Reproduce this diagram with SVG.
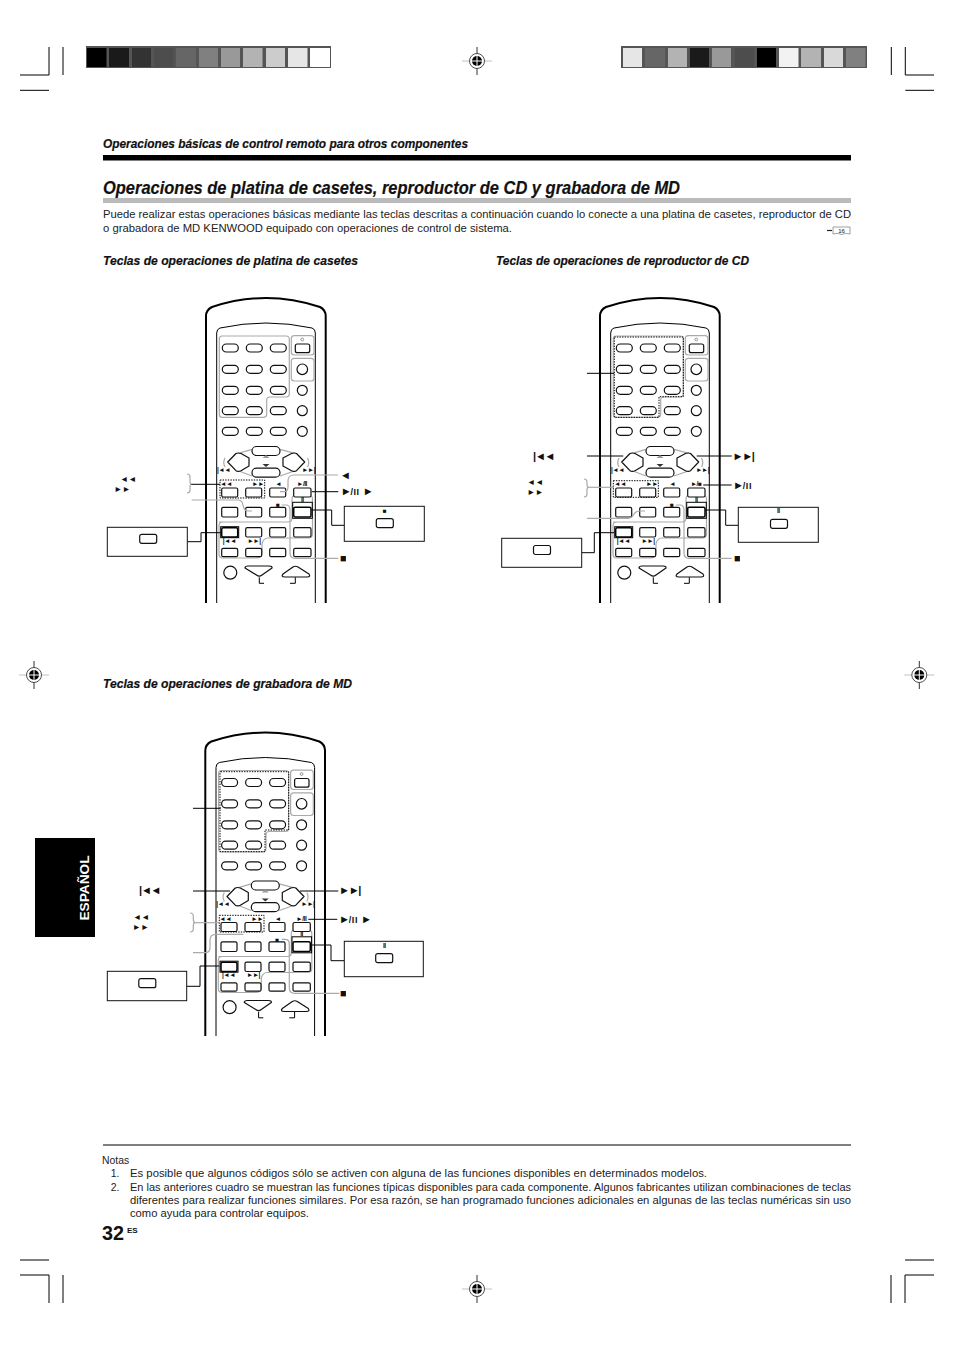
<svg xmlns="http://www.w3.org/2000/svg" width="954" height="1351" viewBox="0 0 954 1351">
<style>
text{font-family:"Liberation Sans",Arial,sans-serif;fill:#111}
.h{font-weight:bold;font-style:italic;stroke:#111;stroke-width:.2}
.body{font-size:10.4px;fill:#222;opacity:.999}
.ic{font-size:6.5px;font-weight:bold;text-anchor:middle;letter-spacing:-.5px;opacity:.999}
.lb{font-size:11px;font-weight:bold;letter-spacing:-1.2px;opacity:.999}
.lb2{font-size:8.4px;font-weight:bold;opacity:.999}
.sp{letter-spacing:.6px;font-size:9px}
.crop{stroke:#000;stroke-width:1;fill:none}
.b{fill:#fff;stroke:#111;stroke-width:1.2;stroke-linejoin:round}
.hb{fill:#fff;stroke:#000;stroke-width:1.5}
.g{fill:none;stroke:#aaa;stroke-width:1.2}
.k{fill:none;stroke:#000;stroke-width:1}
.dot{fill:none;stroke:#000;stroke-width:1;stroke-dasharray:1.4 1.2}
.box{fill:#fff;stroke:#111;stroke-width:1}
.edge{fill:none;stroke:#000;stroke-width:2}
</style>
<defs>
<g id="reg">
<line x1="-15" x2="15" y1="0" y2="0" stroke="#ccc" stroke-width="1.2"/>
<line x1="0" x2="0" y1="-14" y2="14" stroke="#333" stroke-width="1"/>
<circle r="7.5" fill="#fff" stroke="#222" stroke-width="0.8"/>
<circle r="5" fill="#000"/>
<path d="M-6,0H6M0,-6V6" stroke="#fff" stroke-width="1"/>
</g>
<clipPath id="clipMd"><rect x="190" y="720" width="150" height="316"/></clipPath>
<g id="remote">
<path class="edge" d="M206,603V316Q206,310 212,307Q266,289 320,307Q325.7,310 325.7,316V603"/>
<path class="k" d="M216.7,603V333Q216.7,329 220,328Q266,318 312,328Q315.3,329 315.3,333V603"/>
<path class="g" d="M222,336H286Q289.3,336 289.3,339V394Q289.3,397 286,397H270Q266.7,397 266.7,400V414Q266.7,417.3 263,417.3H222Q219.3,417.3 219.3,414V339Q219.3,336 222,336Z"/>
<rect class="g" x="291.3" y="335.7" width="22.7" height="19.3" rx="3"/>
<rect class="g" x="291.3" y="358.3" width="22.7" height="22.7" rx="3"/>
<path class="g" d="M219,522H288Q292,522 292,518V499Q292,495 296,495H308Q312.5,495 312.5,499V534Q312.5,538 308,538H268Q263,538 262,544V553Q262,558 256,558H223Q219,558 219,554V526Q219,522 223,522"/>
<path class="g" d="M252,449.3L238.3,453.3M280,449.3L295,453.3M238.3,470.7L252,476M280,476L295,470.7"/>
<g id="rows">
<rect class="b" x="222.3" y="344" width="16" height="8" rx="4"/><rect class="b" x="246.3" y="344" width="16" height="8" rx="4"/><rect class="b" x="270.3" y="344" width="16" height="8" rx="4"/>
<rect class="b" x="222.3" y="365.3" width="16" height="8" rx="4"/><rect class="b" x="246.3" y="365.3" width="16" height="8" rx="4"/><rect class="b" x="270.3" y="365.3" width="16" height="8" rx="4"/>
<rect class="b" x="222.3" y="386.3" width="16" height="8" rx="4"/><rect class="b" x="246.3" y="386.3" width="16" height="8" rx="4"/><rect class="b" x="270.3" y="386.3" width="16" height="8" rx="4"/>
<rect class="b" x="222.3" y="406.7" width="16" height="8" rx="4"/><rect class="b" x="246.3" y="406.7" width="16" height="8" rx="4"/><rect class="b" x="270.3" y="406.7" width="16" height="8" rx="4"/>
<rect class="b" x="222.3" y="427.3" width="16" height="8" rx="4"/><rect class="b" x="246.3" y="427.3" width="16" height="8" rx="4"/><rect class="b" x="270.3" y="427.3" width="16" height="8" rx="4"/>
</g>
<circle cx="302.3" cy="339.5" r="1.4" fill="#fff" stroke="#555" stroke-width="0.6"/>
<rect class="b" x="295.3" y="344" width="14.4" height="8.7" rx="2"/>
<circle class="b" cx="302.3" cy="369.3" r="5.3"/>
<circle class="b" cx="302.3" cy="390.3" r="5"/>
<circle class="b" cx="302.3" cy="410.7" r="5"/>
<circle class="b" cx="302.3" cy="431.3" r="5"/>
<rect class="b" x="252" y="446.5" width="28" height="9" rx="4.5"/>
<rect class="b" x="252" y="468.2" width="28" height="9" rx="4.5"/>
<path class="b" d="M227.7,462L236,453.5Q238,452.5 241,453.5L249,458V466L241,470.7Q238,472 236,470.7Z"/>
<path class="b" d="M304.7,462L296.5,453.5Q294.5,452.5 291.5,453.5L283,458V466L291.5,470.7Q294.5,472 296.5,470.7Z"/>
<path d="M262.5,458H269.5L266,455Z" fill="#999"/>
<path d="M262.5,464H269.5L266,467Z" fill="#333"/>
<path class="g" d="M225,458Q222.5,462.5 225,467M307.5,458Q310,462.5 307.5,467"/>
<text class="ic" x="223.5" y="471.5">|◄◄</text>
<text class="ic" x="308.5" y="471.5">►►|</text>
<text class="ic" x="226" y="486.3">◄◄</text>
<text class="ic" x="258" y="486.3">►►</text>
<text class="ic" x="278.3" y="486.3">◄</text>
<rect class="b" x="221.7" y="488" width="16" height="9" rx="1.5"/><rect class="b" x="245.7" y="488" width="16" height="9" rx="1.5"/><rect class="b" x="269.7" y="488" width="16" height="9" rx="1.5"/><rect class="b" x="293.7" y="488" width="17.3" height="9" rx="1.5"/>
<rect class="b" x="221.7" y="507.3" width="16" height="9.7" rx="1.5"/><rect class="b" x="245.7" y="507.3" width="16" height="9.7" rx="1.5"/><rect class="b" x="269.7" y="507.3" width="16" height="9.7" rx="1.5"/>
<rect class="k" x="292.7" y="502.3" width="19.6" height="16"/>
<rect class="hb" x="293.7" y="507.3" width="17.3" height="9.7" rx="1.5"/>
<text class="ic" x="302.3" y="501.5">II</text>
<text class="ic" x="277.7" y="507.3">■</text>
<rect class="k" x="220.7" y="526.7" width="18" height="11"/>
<rect class="hb" x="221.7" y="527.7" width="16" height="9.3" rx="1.5"/>
<rect class="b" x="245.7" y="527.7" width="16" height="9.3" rx="1.5"/><rect class="b" x="269.7" y="527.7" width="16" height="9.3" rx="1.5"/><rect class="b" x="293.7" y="527.7" width="17.3" height="9.3" rx="1.5"/>
<text class="ic" x="229.3" y="542.8">|◄◄</text>
<text class="ic" x="254" y="542.8">►►|</text>
<rect class="b" x="221.7" y="548.3" width="16" height="8.4" rx="1.5"/><rect class="b" x="245.7" y="548.3" width="16" height="8.4" rx="1.5"/><rect class="b" x="269.7" y="548.3" width="16" height="8.4" rx="1.5"/><rect class="b" x="293.7" y="548.3" width="17.3" height="8.4" rx="1.5"/>
<circle class="b" cx="230.3" cy="572.7" r="6.5"/>
<path class="b" d="M245,568Q245,566 248,566H269Q272.5,566 272,568L262,575Q259.3,577.3 256.5,575Z"/>
<path class="b" d="M293,567Q295.5,565.5 298,567L309,574Q311,577 307,577H285Q280.5,577 283,574Z"/>
<path class="k" d="M259.3,577.3V583.3H264M295.3,577.3V583.3H290"/>
</g>
<rect id="mini" width="17" height="9" rx="2" class="b"/>
</defs>

<g id="crop-marks" class="crop">
<path d="M20,75H49V47M63,47V75M20,90.3H49"/>
<path d="M934,75H905.3V47M891.3,47V75M934,90.3H905.3"/>
<path d="M20,1260H49M20,1275H49V1303M63,1275V1303"/>
<path d="M934,1260H905M934,1275H905V1303M891,1275V1303"/>
</g>
<g id="registration">
<use href="#reg" x="477" y="61"/><use href="#reg" x="34" y="675"/><use href="#reg" x="919.3" y="675"/><use href="#reg" x="477" y="1289"/>
</g>
<g id="colour-strip-left">
<rect x="86" y="46" width="245" height="22" fill="#555"/>
<rect x="87" y="48" width="19.5" height="19" fill="#000"/><rect x="109" y="48" width="20" height="19" fill="#1a1a1a"/><rect x="132" y="48" width="19" height="19" fill="#333"/><rect x="154" y="48" width="19.5" height="19" fill="#4d4d4d"/><rect x="176" y="48" width="20" height="19" fill="#666"/><rect x="199" y="48" width="19" height="19" fill="#808080"/><rect x="221" y="48" width="19" height="19" fill="#999"/><rect x="243" y="48" width="19.5" height="19" fill="#b3b3b3"/><rect x="266" y="48" width="19" height="19" fill="#ccc"/><rect x="288" y="48" width="19.5" height="19" fill="#e6e6e6"/><rect x="310" y="48" width="20" height="19" fill="#fff"/>
</g>
<g id="colour-strip-right">
<rect x="621" y="46" width="246" height="22" fill="#555"/>
<rect x="623" y="48" width="19" height="19" fill="#e6e6e6"/><rect x="645" y="48" width="20" height="19" fill="#666"/><rect x="668" y="48" width="19" height="19" fill="#b3b3b3"/><rect x="690" y="48" width="19" height="19" fill="#1a1a1a"/><rect x="712" y="48" width="19" height="19" fill="#999"/><rect x="735" y="48" width="19" height="19" fill="#4d4d4d"/><rect x="757" y="48" width="19" height="19" fill="#000"/><rect x="779" y="48" width="19.5" height="19" fill="#f2f2f2"/><rect x="801" y="48" width="20" height="19" fill="#b3b3b3"/><rect x="824" y="48" width="19" height="19" fill="#d9d9d9"/><rect x="846" y="48" width="19.5" height="19" fill="#808080"/>
</g>

<g id="heading">
<text class="h" x="103" y="148" font-size="12.5" textLength="365" lengthAdjust="spacingAndGlyphs">Operaciones básicas de control remoto para otros componentes</text>
<rect x="103" y="155" width="748" height="5.5" fill="#000"/>
<text class="h" x="103" y="194" font-size="19" textLength="577" lengthAdjust="spacingAndGlyphs">Operaciones de platina de casetes, reproductor de CD y grabadora de MD</text>
<rect x="103" y="198" width="748" height="5" fill="#bbb"/>
<text class="body" x="103" y="218" textLength="748" lengthAdjust="spacingAndGlyphs">Puede realizar estas operaciones básicas mediante las teclas descritas a continuación cuando lo conecte a una platina de casetes, reproductor de CD</text>
<text class="body" x="103" y="232" textLength="409" lengthAdjust="spacingAndGlyphs">o grabadora de MD KENWOOD equipado con operaciones de control de sistema.</text>
<path d="M827,230.5H832" stroke="#222" stroke-width="1.2"/>
<path d="M833,227V234Q838,232.5 841.5,234.5Q845,232.5 850,234V227Z" fill="none" stroke="#777" stroke-width="0.7"/>
<text x="841.5" y="232.5" font-size="6" text-anchor="middle">16</text>
<text class="h" x="103" y="265" font-size="12.5" textLength="255" lengthAdjust="spacingAndGlyphs">Teclas de operaciones de platina de casetes</text>
<text class="h" x="496" y="265" font-size="12.5" textLength="253" lengthAdjust="spacingAndGlyphs">Teclas de operaciones de reproductor de CD</text>
<text class="h" x="103" y="688" font-size="12.5" textLength="249" lengthAdjust="spacingAndGlyphs">Teclas de operaciones de grabadora de MD</text>
</g>

<g id="remote-cassette">
<use href="#remote"/>
<text class="ic" x="302" y="486.3">►/II</text>
</g>
<g id="remote-cd">
<use href="#remote" x="394"/>
<text class="ic" x="696" y="486.3">►/■</text>
</g>
<g id="remote-md" clip-path="url(#clipMd)">
<use href="#remote" x="-0.7" y="434.5"/>
<text class="ic" x="301.3" y="920.8">►/II</text>
</g>

<g id="connectors">
<rect class="dot" x="220" y="480" width="44.7" height="18"/>
<path class="k" d="M191,484.3H220"/>
<path class="g" d="M187,474Q190,474 190,477V481Q190,484 191.5,484Q190,484 190,487V490Q190,493 187,493"/>
<path class="g" d="M191.7,500H238Q242,500 243,505Q244,511 248,511H252"/>
<path class="g" d="M338,475H294Q288,475 288,481V487Q288,491.7 284,491.7H280"/>
<path class="k" d="M311.7,491.7H338.3"/>
<path class="k" d="M311.7,510H331.7V525.3H344.3"/>
<path class="k" d="M187.3,541.7H201V532.7H220.7"/>
<path class="g" d="M281.7,505H286Q290,505 290,510V553Q290,558.3 295,558.3H338.3"/>
<path class="dot" d="M614.3,337H683.3V396.7H659V417.3H614.3Z"/>
<path class="k" d="M587,373.3H614.3"/>
<path class="k" d="M587,456H623.3M696.7,456H731.7"/>
<rect class="dot" x="613.3" y="480.7" width="45" height="16.6"/>
<path class="g" d="M584,479Q587,479 587,482V484Q587,487.3 588.5,487.3Q587,487.3 587,490V494Q587,497 584,497"/>
<path class="g" d="M588,487.3H614"/>
<path class="k" d="M703.3,485H731.7"/>
<path class="g" d="M587,518.3H628Q632,518.3 634,514Q636,511 640,511H645"/>
<path class="k" d="M705,510H725.7V525.3H738.3"/>
<path class="k" d="M581.7,552.7H594.3V532.7H614"/>
<path class="g" d="M675.7,505H680Q684,505 684,510V553Q684,558.3 689,558.3H731.7"/>
<path class="dot" d="M220.7,771.7H288.7V830H265V851.7H220V772Z"/>
<path class="k" d="M193,808.3H220.7"/>
<path class="k" d="M193,891H230M300,891H338.3"/>
<rect class="dot" x="219.3" y="915.3" width="44.7" height="16.7"/>
<path class="g" d="M190,913Q193.3,913 193.3,916V919Q193.3,922.7 195,922.7Q193.3,922.7 193.3,926V929Q193.3,932 190,932"/>
<path class="g" d="M194.3,922.7H219.3"/>
<path class="k" d="M308.3,919.3H337.3"/>
<path class="g" d="M193,952.7H205Q210,952.7 210,948V940Q210,934.3 216,934.3H243.3"/>
<path class="k" d="M311.7,945H331V960.7H344.3"/>
<path class="k" d="M186.7,986.3H200V966H219.3"/>
<path class="g" d="M281.7,939.3H285Q289.3,939.3 289.3,944V988Q289.3,993.3 295,993.3H339.3"/>
</g>

<g id="callout-cassette-left">
<rect class="box" x="107.3" y="527.3" width="80" height="29"/>
<use href="#mini" x="139.7" y="534.3"/>
</g>
<g id="callout-cassette-right">
<rect class="box" x="344.3" y="506.3" width="80" height="35"/>
<use href="#mini" x="376.3" y="518.7"/>
<text class="ic" x="384.5" y="512.5">■</text>
</g>
<g id="callout-cd-left">
<rect class="box" x="501.7" y="538.3" width="80" height="29"/>
<use href="#mini" x="533.5" y="545.5"/>
</g>
<g id="callout-cd-right">
<rect class="box" x="738.3" y="507.3" width="80" height="35"/>
<use href="#mini" x="770.5" y="519.3"/>
<text class="ic" x="778.3" y="512.5">II</text>
</g>
<g id="callout-md-left">
<rect class="box" x="107.3" y="971.3" width="79.4" height="29.4"/>
<use href="#mini" x="138.8" y="978.7"/>
</g>
<g id="callout-md-right">
<rect class="box" x="344.3" y="941.3" width="79" height="35.4"/>
<use href="#mini" x="375.7" y="953.7"/>
<text class="ic" x="384.3" y="947.5">II</text>
</g>

<g id="labels">
<text class="lb2" x="120" y="481.5">◄◄</text><text class="lb2" x="114" y="491.5">►►</text>
<text class="lb" x="340" y="478.5">◄</text>
<text class="lb" x="340.7" y="495">►<tspan class="sp">/II </tspan>►</text>
<text class="lb" x="340" y="562">■</text>
<text class="lb" x="533" y="459.5">|◄◄</text>
<text class="lb" x="732.5" y="459.5">►►|</text>
<text class="lb2" x="527" y="485">◄◄</text><text class="lb2" x="527" y="495">►►</text>
<text class="lb" x="733" y="488.5">►<tspan class="sp">/II</tspan></text>
<text class="lb" x="734" y="562">■</text>
<text class="lb" x="139" y="894">|◄◄</text>
<text class="lb" x="339" y="894">►►|</text>
<text class="lb2" x="133" y="920">◄◄</text><text class="lb2" x="132.5" y="930">►►</text>
<text class="lb" x="339" y="922.5">►<tspan class="sp">/II </tspan>►</text>
<text class="lb" x="340" y="997">■</text>
</g>

<g id="tab">
<rect x="35" y="838" width="60" height="99" fill="#000"/>
<text transform="translate(89,920.5) rotate(-90)" font-size="13" font-weight="bold" style="fill:#fff" textLength="65" lengthAdjust="spacingAndGlyphs">ESPAÑOL</text>
</g>

<g id="notes">
<rect x="103" y="1144.5" width="748" height="1" fill="#000"/>
<text class="body" x="102" y="1163.5">Notas</text>
<text class="body" x="110.7" y="1177">1.</text>
<text class="body" x="130" y="1177" textLength="577" lengthAdjust="spacingAndGlyphs">Es posible que algunos códigos sólo se activen con alguna de las funciones disponibles en determinados modelos.</text>
<text class="body" x="110.7" y="1191">2.</text>
<text class="body" x="130" y="1191" textLength="721" lengthAdjust="spacingAndGlyphs">En las anteriores cuadro se muestran las funciones típicas disponibles para cada componente. Algunos fabricantes utilizan combinaciones de teclas</text>
<text class="body" x="130" y="1204" textLength="721" lengthAdjust="spacingAndGlyphs">diferentes para realizar funciones similares. Por esa razón, se han programado funciones adicionales en algunas de las teclas numéricas sin uso</text>
<text class="body" x="130" y="1217" textLength="179" lengthAdjust="spacingAndGlyphs">como ayuda para controlar equipos.</text>
<text x="102" y="1240" font-size="21" font-weight="bold" textLength="22" lengthAdjust="spacingAndGlyphs">32</text>
<text x="127" y="1233" font-size="8" font-weight="bold">ES</text>
</g>
</svg>
